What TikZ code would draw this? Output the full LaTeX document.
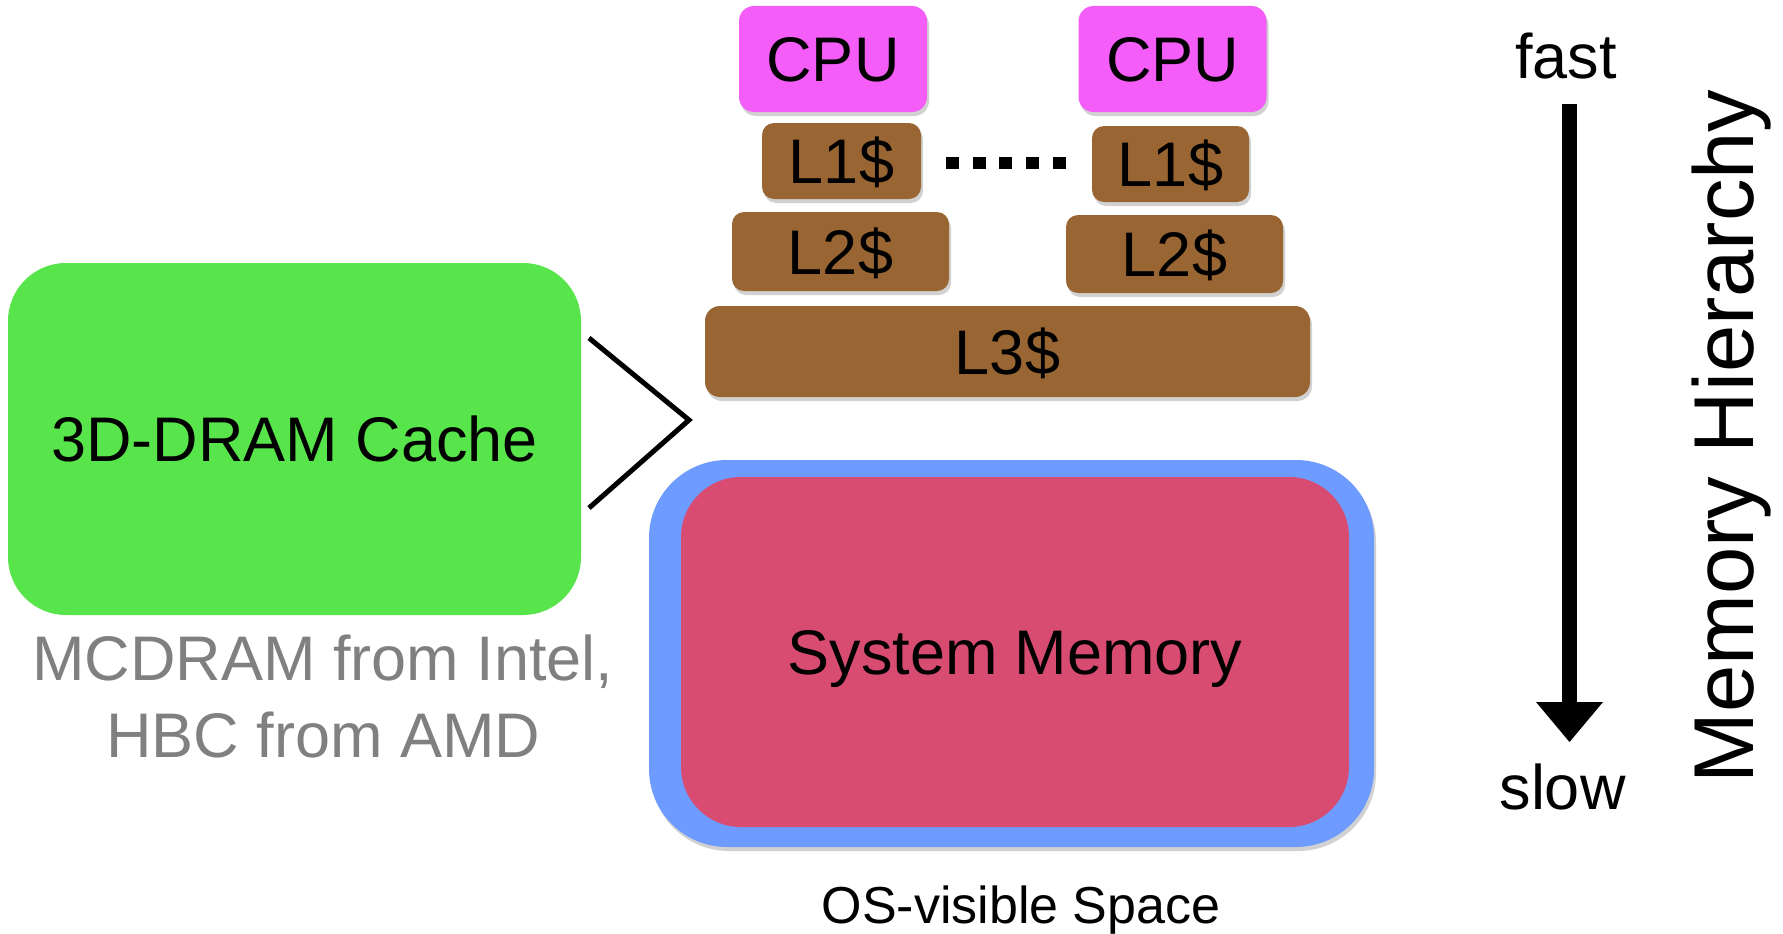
\documentclass[tikz,border=0pt]{standalone}
\usepackage{fontspec}
\setmainfont{Liberation Sans}
\usetikzlibrary{arrows.meta,shadows}
\definecolor{cpumag}{RGB}{244,93,247}
\definecolor{cachebrown}{RGB}{153,102,51}
\definecolor{dramgreen}{RGB}{88,228,75}
\definecolor{osblue}{RGB}{110,155,255}
\definecolor{sysred}{RGB}{216,76,113}
\definecolor{notegrey}{RGB}{128,128,128}
\begin{document}
\begin{tikzpicture}[x=1pt,y=-1pt,
  box/.style={inner sep=0pt, outer sep=0pt, text height=45pt, text depth=0pt,
    font=\fontsize{63}{70}\selectfont, align=center},
  shad/.style={drop shadow={shadow xshift=2pt, shadow yshift=-4pt, opacity=0.3, fill=black!60}},
  cpubox/.style={box, shad, fill=cpumag, rounded corners=15pt, minimum width=188pt, minimum height=106pt},
  cachebox/.style={box, shad, fill=cachebrown, rounded corners=12pt},
  lbl/.style={inner sep=0pt, anchor=base, font=\fontsize{63}{70}\selectfont},
]
\useasboundingbox (0,0) rectangle (1783,934);

% CPUs and caches
\node[cpubox] (cpuA) at (833,59) {CPU};
\node[cpubox] (cpuB) at (1172.5,59) {CPU};
\node[cachebox, minimum width=159pt, minimum height=76pt] (lA) at (841.5,161) {L1\$};
\node[cachebox, minimum width=157pt, minimum height=76pt] (lB) at (1170.5,164) {L1\$};
\node[cachebox, minimum width=217pt, minimum height=79pt] (ltA) at (840.5,251.5) {L2\$};
\node[cachebox, minimum width=217pt, minimum height=78pt] (ltB) at (1174.5,254) {L2\$};
\node[cachebox, rounded corners=15pt, minimum width=605pt, minimum height=91pt] (lthree) at (1007.5,351.5) {L3\$};

% dots between the two cores
\foreach \i in {0,...,4}{
  \fill ({946+26.7*\i},156.7) rectangle ++(13,12.6);
}

% 3D-DRAM cache
\node[box, fill=dramgreen, rounded corners=58pt, minimum width=573pt, minimum height=352pt] (dram) at (294.5,439) {3D-DRAM Cache};
\node[lbl, text=notegrey] (noteA) at (323,680) {MCDRAM from Intel,};
\node[lbl, text=notegrey] (noteB) at (323.5,757) {HBC from AMD};

% chevron
\coordinate (chevA) at (589,338);
\coordinate (chevB) at (689,420);
\coordinate (chevC) at (589,508);
\draw[line width=5pt, line join=miter] (chevA) -- (chevB) -- (chevC);

% system memory
\node[box, shad, fill=osblue, rounded corners=78pt, minimum width=725pt, minimum height=387pt] (osvis) at (1011.5,653.5) {};
\node[box, fill=sysred, rounded corners=60pt, minimum width=668pt, minimum height=350pt] (sysmem) at (1015,652) {System Memory};
\node[lbl, font=\fontsize{52}{58}\selectfont] (oslabel) at (1021,923) {OS-visible Space};

% memory hierarchy arrow
\node[lbl] (fast) at (1566,78) {fast};
\node[lbl] (slow) at (1562.5,809) {slow};
\coordinate (arrtop) at (1569.5,104);
\coordinate (arrtip) at (1569.5,742);
\draw[line width=15pt, -{Triangle[length=40pt,width=67pt,line width=0pt]}] (arrtop) -- (arrtip);
\node[lbl, rotate=90, font=\fontsize{85}{90}\selectfont] (memh) at (1753,436.5) {Memory Hierarchy};
\end{tikzpicture}
\end{document}
